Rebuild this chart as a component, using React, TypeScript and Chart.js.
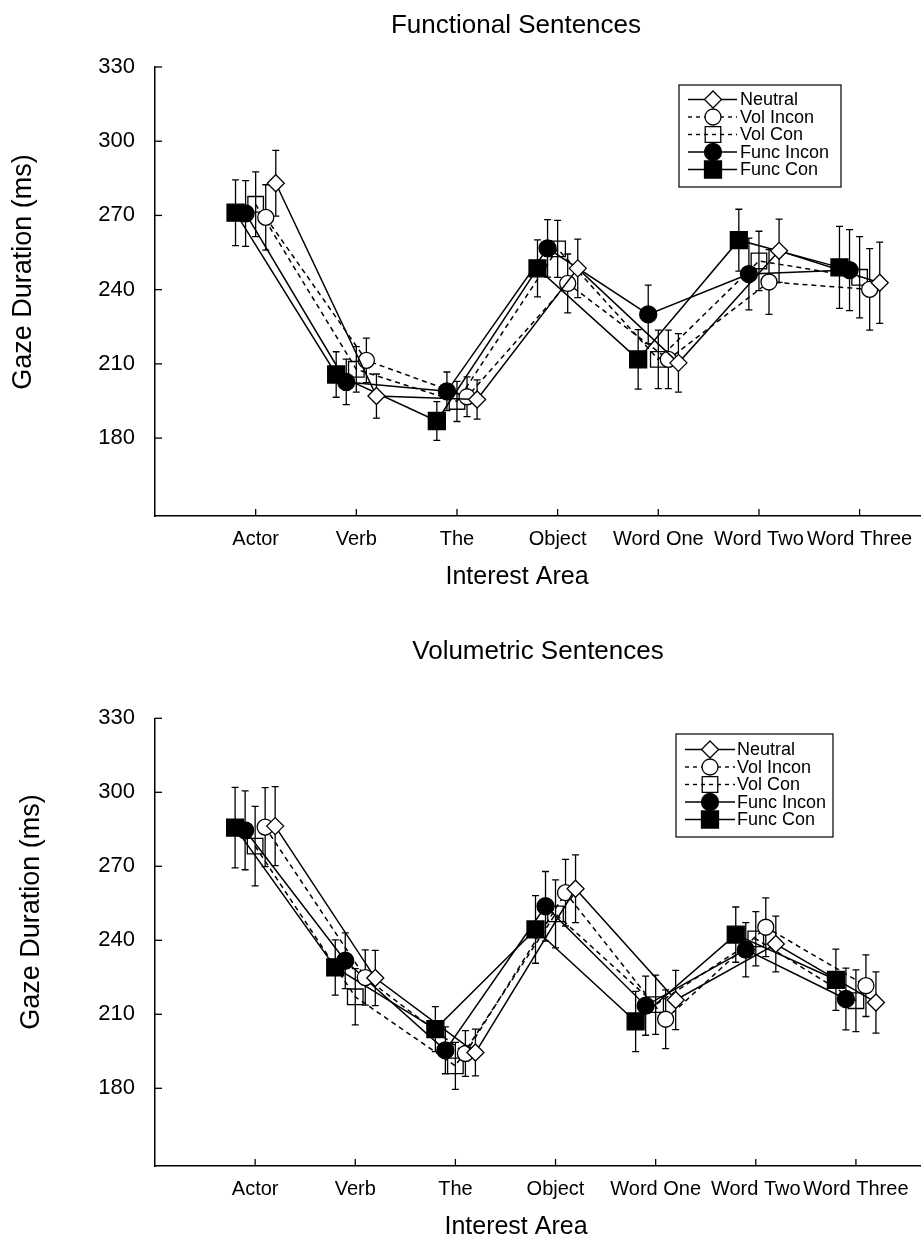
import React, { useEffect, useRef } from 'react';
import { Chart, registerables } from 'chart.js';

Chart.register(...registerables);

const FONT = '"Liberation Sans", Arial, Helvetica, sans-serif';

const categories = ['Actor', 'Verb', 'The', 'Object', 'Word One', 'Word Two', 'Word Three'];
const yTickValues = [180, 210, 240, 270, 300, 330];
const seriesNames = ['Neutral', 'Vol Incon', 'Vol Con', 'Func Incon', 'Func Con'];

// Functional sentences: means and error-bar half-widths (ms)
const funcNeutral = [283, 197, 195.6, 248.6, 210.4, 255.7, 242.8];
const funcVolIncon = [269.2, 211.4, 196.7, 242.5, 211.8, 243.1, 240.1];
const funcVolCon = [274.5, 207.8, 194.8, 256.5, 211.8, 251.6, 245];
const funcFuncIncon = [270.8, 202.7, 198.9, 256.7, 230, 246.3, 247.9];
const funcFuncCon = [271.1, 205.7, 186.9, 248.6, 211.8, 260, 249];
const funcNeutralErr = [13.3, 8.9, 7.9, 11.8, 11.8, 12.8, 16.4];
const funcVolInconErr = [13.2, 9.0, 8.0, 11.9, 11.8, 13.1, 16.5];
const funcVolConErr = [13.1, 9.2, 8.1, 11.5, 11.8, 12.0, 16.4];
const funcFuncInconErr = [13.3, 9.2, 7.8, 11.6, 11.8, 14.5, 16.4];
const funcFuncConErr = [13.3, 9.2, 7.8, 11.5, 12.0, 12.5, 16.6];

// Volumetric sentences
const volNeutral = [286.3, 224.7, 194.5, 260.9, 215.8, 238.5, 214.8];
const volVolIncon = [285.9, 224.9, 194.1, 259.3, 208, 245.3, 221.6];
const volVolCon = [278.2, 217.1, 189.1, 250.7, 213.9, 240.6, 215.5];
const volFuncIncon = [284.6, 231.7, 195.4, 253.8, 213.5, 236.2, 216.2];
const volFuncCon = [285.7, 229, 204, 244.4, 207.1, 242.3, 224];
const volNeutralErr = [16, 11.2, 9.5, 13.7, 12, 11.3, 12.4];
const volVolInconErr = [16, 11.2, 9.3, 13.5, 11.9, 11.9, 12.5];
const volVolConErr = [16.1, 11.4, 9.5, 13.8, 12, 11, 12.5];
const volFuncInconErr = [16, 11.3, 9.5, 14.1, 12, 11, 12.5];
const volFuncConErr = [16.3, 11.2, 9.1, 13.7, 12.2, 11.2, 12.4];

// styles per series (same order as seriesNames)
const seriesShapes = ['rectRot', 'circle', 'rect', 'circle', 'rect'];
const seriesFills = ['#ffffff', '#ffffff', 'rgba(0,0,0,0)', '#000000', '#000000'];
const seriesRadii = [8.5, 8, 11, 8.5, 12];
const seriesDashes: number[][] = [[], [5, 4], [5, 4], [], []];
const seriesOffsets = [0.2, 0.1, 0, -0.1, -0.2];

function drawMarker(ctx: CanvasRenderingContext2D, shape: string, x: number, y: number, r: number, fill: string) {
  ctx.save();
  ctx.setLineDash([]);
  ctx.beginPath();
  if (shape === 'circle') {
    ctx.arc(x, y, r, 0, Math.PI * 2);
  } else if (shape === 'rectRot') {
    ctx.moveTo(x, y - r);
    ctx.lineTo(x + r, y);
    ctx.lineTo(x, y + r);
    ctx.lineTo(x - r, y);
    ctx.closePath();
  } else {
    const s = r * Math.SQRT1_2;
    ctx.rect(x - s, y - s, 2 * s, 2 * s);
  }
  ctx.fillStyle = fill;
  ctx.fill();
  ctx.strokeStyle = '#000';
  ctx.lineWidth = 1.3;
  ctx.stroke();
  ctx.restore();
}

type Cfg = {
  height: number;
  title: string;
  titleX: number;
  titleY: number;
  yTitleX: number;
  yTitleY: number;
  xTitleX: number;
  xTitleY: number;
  areaTop: number;
  areaBottom: number;
  areaRight: number;
  xMax: number;
  legendBox: [number, number, number, number];
  legendRow0: number;
  legendLine: [number, number];
  legendMarkerX: number;
  legendTextX: number;
  values: number[][];
  errors: number[][];
};

function GazeChart({ cfg }: { cfg: Cfg }) {
  const ref = useRef<HTMLCanvasElement | null>(null);
  useEffect(() => {
    const canvas = ref.current;
    if (!canvas) return;
    const datasets = seriesNames.map((name, s) => ({
      label: name,
      data: cfg.values[s].map((v, i) => ({ x: i + 1 + seriesOffsets[s], y: v })),
      errors: cfg.errors[s],
      borderColor: '#000',
      borderWidth: 1.5,
      borderDash: seriesDashes[s],
      pointStyle: seriesShapes[s],
      pointRadius: seriesRadii[s],
      pointBackgroundColor: seriesFills[s],
      pointBorderColor: '#000',
      pointBorderWidth: 1.3,
      fill: false,
      tension: 0,
    }));

    const decor = {
      id: 'decor',
      beforeDatasetsDraw(chart: any) {
        const ctx = chart.ctx as CanvasRenderingContext2D;
        const ys = chart.scales.y;
        ctx.save();
        ctx.strokeStyle = '#000';
        ctx.lineWidth = 1.3;
        ctx.setLineDash([]);
        chart.data.datasets.forEach((ds: any, di: number) => {
          const meta = chart.getDatasetMeta(di);
          ds.data.forEach((p: any, j: number) => {
            const e = ds.errors[j];
            const x = meta.data[j].x;
            const t = ys.getPixelForValue(p.y + e);
            const b = ys.getPixelForValue(p.y - e);
            ctx.beginPath();
            ctx.moveTo(x, t);
            ctx.lineTo(x, b);
            ctx.moveTo(x - 3.5, t);
            ctx.lineTo(x + 3.5, t);
            ctx.moveTo(x - 3.5, b);
            ctx.lineTo(x + 3.5, b);
            ctx.stroke();
          });
        });
        ctx.restore();
      },
      afterDraw(chart: any) {
        const ctx = chart.ctx as CanvasRenderingContext2D;
        const xs = chart.scales.x;
        const ys = chart.scales.y;
        const area = chart.chartArea;
        ctx.save();
        ctx.strokeStyle = '#000';
        ctx.lineWidth = 1.3;
        ctx.setLineDash([]);
        // inner tick marks
        yTickValues.forEach((v) => {
          const y = ys.getPixelForValue(v);
          ctx.beginPath();
          ctx.moveTo(area.left, y);
          ctx.lineTo(area.left + 7, y);
          ctx.stroke();
        });
        categories.forEach((_, i) => {
          const x = xs.getPixelForValue(i + 1);
          ctx.beginPath();
          ctx.moveTo(x, area.bottom);
          ctx.lineTo(x, area.bottom - 7);
          ctx.stroke();
        });
        // titles
        ctx.fillStyle = '#000';
        ctx.textAlign = 'center';
        ctx.textBaseline = 'middle';
        ctx.font = `26px ${FONT}`;
        ctx.fillText(cfg.title, cfg.titleX, cfg.titleY);
        ctx.font = `25px ${FONT}`;
        ctx.fillText('Interest Area', cfg.xTitleX, cfg.xTitleY);
        ctx.save();
        ctx.translate(cfg.yTitleX, cfg.yTitleY);
        ctx.rotate(-Math.PI / 2);
        ctx.font = `27px ${FONT}`;
        ctx.fillText('Gaze Duration (ms)', 0, 0);
        ctx.restore();
        // legend
        const [bx, by, bw, bh] = cfg.legendBox;
        ctx.lineWidth = 1.2;
        ctx.strokeRect(bx, by, bw, bh);
        ctx.font = `18px ${FONT}`;
        ctx.textAlign = 'left';
        seriesNames.forEach((name, s) => {
          const y = cfg.legendRow0 + s * 17.5;
          ctx.save();
          ctx.lineWidth = 1.4;
          ctx.setLineDash(seriesDashes[s].length ? [4, 4] : []);
          ctx.beginPath();
          ctx.moveTo(cfg.legendLine[0], y);
          ctx.lineTo(cfg.legendLine[1], y);
          ctx.stroke();
          ctx.restore();
          drawMarker(ctx, seriesShapes[s], cfg.legendMarkerX, y, seriesRadii[s], seriesFills[s]);
          ctx.fillStyle = '#000';
          ctx.fillText(name, cfg.legendTextX, y + 1);
        });
        ctx.restore();
      },
    };

    const chart = new Chart(canvas, {
      type: 'line',
      data: { datasets: datasets as any },
      plugins: [decor],
      options: {
        animation: false,
        responsive: false,
        events: [],
        layout: {
          autoPadding: false,
          padding: { top: cfg.areaTop, right: 922 - cfg.areaRight, left: 0, bottom: 0 },
        },
        plugins: { legend: { display: false }, tooltip: { enabled: false }, title: { display: false } },
        scales: {
          x: {
            type: 'linear',
            min: 0,
            max: cfg.xMax,
            afterBuildTicks: (scale: any) => {
              scale.ticks = categories.map((_, i) => ({ value: i + 1 }));
            },
            afterFit: (scale: any) => {
              scale.height = cfg.height - cfg.areaBottom;
              scale.paddingLeft = 0;
              scale.paddingRight = 0;
            },
            ticks: {
              autoSkip: false,
              maxRotation: 0,
              minRotation: 0,
              padding: 11,
              color: '#000',
              font: { family: FONT, size: 20 },
              callback: (v: any) => categories[Math.round(Number(v)) - 1] ?? '',
            },
            grid: { display: false, drawTicks: false },
            border: { display: true, color: '#000', width: 1.5 },
          },
          y: {
            type: 'linear',
            min: 148.5,
            max: 330,
            afterBuildTicks: (scale: any) => {
              scale.ticks = yTickValues.map((v) => ({ value: v }));
            },
            afterFit: (scale: any) => {
              scale.width = 155;
            },
            ticks: {
              padding: 20,
              color: '#000',
              font: { family: FONT, size: 22 },
            },
            grid: { display: false, drawTicks: false },
            border: { display: true, color: '#000', width: 1.5 },
          },
        },
      } as any,
    });
    return () => chart.destroy();
  }, [cfg]);
  return <canvas ref={ref} width={922} height={cfg.height} style={{ display: 'block', width: 922, height: cfg.height }} />;
}

const topCfg: Cfg = {
  height: 600,
  title: 'Functional Sentences',
  titleX: 516,
  titleY: 26,
  yTitleX: 24,
  yTitleY: 272,
  xTitleX: 517,
  xTitleY: 577,
  areaTop: 67,
  areaBottom: 516,
  areaRight: 920,
  xMax: 7.6,
  legendBox: [679, 85, 162, 102],
  legendRow0: 99.5,
  legendLine: [688, 737],
  legendMarkerX: 713,
  legendTextX: 740,
  values: [funcNeutral, funcVolIncon, funcVolCon, funcFuncIncon, funcFuncCon],
  errors: [funcNeutralErr, funcVolInconErr, funcVolConErr, funcFuncInconErr, funcFuncConErr],
};

const bottomCfg: Cfg = {
  height: 645,
  title: 'Volumetric Sentences',
  titleX: 538,
  titleY: 52,
  yTitleX: 32,
  yTitleY: 312,
  xTitleX: 516,
  xTitleY: 627,
  areaTop: 118.3,
  areaBottom: 566,
  areaRight: 920,
  xMax: 7.64,
  legendBox: [676, 134, 157, 103],
  legendRow0: 149.5,
  legendLine: [685, 735],
  legendMarkerX: 710,
  legendTextX: 737,
  values: [volNeutral, volVolIncon, volVolCon, volFuncIncon, volFuncCon],
  errors: [volNeutralErr, volVolInconErr, volVolConErr, volFuncInconErr, volFuncConErr],
};

export default function App() {
  return (
    <div style={{ position: 'absolute', left: 0, top: 0, width: 922, height: 1245, background: '#fff' }}>
      <GazeChart cfg={topCfg} />
      <GazeChart cfg={bottomCfg} />
    </div>
  );
}
